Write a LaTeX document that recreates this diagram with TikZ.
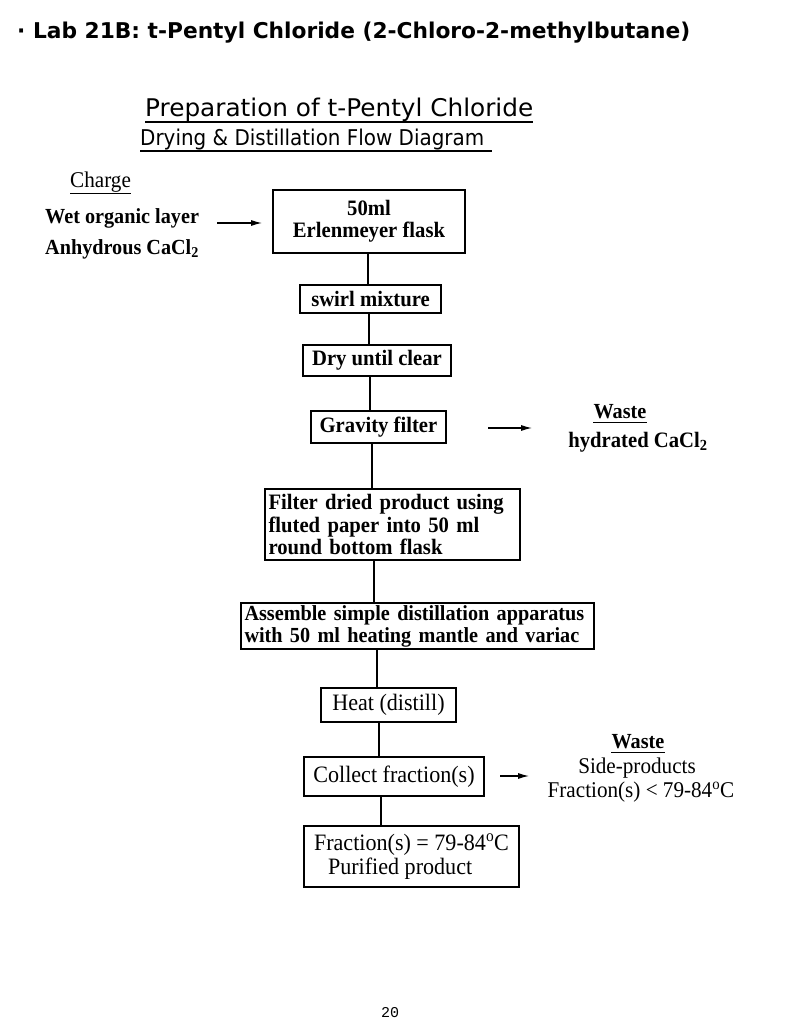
\documentclass[tikz,border=0pt]{standalone}
\usepackage{fontspec}
\setmainfont{Liberation Serif}[FakeStretch=0.94]
\newfontfamily\titlefont{DejaVu Sans}
\newfontfamily\subfont{DejaVu Sans}
\newfontfamily\pagefont{Liberation Mono}
\usetikzlibrary{arrows.meta}
\newcommand{\fs}[1]{\fontsize{#1}{#1}\selectfont}
\newcommand{\dg}{\textsuperscript{o}}
\tikzset{
  box/.style={draw, line width=1.1pt, inner sep=0pt, align=center},
  boldtxt/.style={font=\fs{22}\bfseries},
  regtxt/.style={font=\fs{23.5}},
  lbl/.style={inner sep=0pt, anchor=base},
  conn/.style={line width=1.1pt},
  arr/.style={line width=1.1pt, -{Latex[length=11pt,width=6pt]}},
  uline/.style={line width=1.2pt}
}
\begin{document}
\begin{tikzpicture}[x=1pt,y=-1pt]
\useasboundingbox (0,0) rectangle (795,1024);
% titles
\node[lbl, anchor=base west] (title) at (17,39) {\resizebox{673pt}{!}{\titlefont\bfseries · Lab 21B: t-Pentyl Chloride (2-Chloro-2-methylbutane)}};
\node[lbl, anchor=base west] (sub1) at (145,117) {\resizebox{388pt}{18.5pt}{\subfont Preparation of t-Pentyl Chloride}};
\draw[uline] (sub1.base west) ++(0,5) -- ++(388,0);
\node[lbl, anchor=base west] (sub2) at (140,146) {\resizebox{344pt}{16.5pt}{\subfont Drying \& Distillation Flow Diagram}};
\draw[uline] (sub2.base west) ++(0,5) -- ++(352,0);
% charge
\node[lbl, anchor=base west, font=\fs{22.5}] (charge) at (70,188) {Charge};
\draw[line width=0.9pt] (charge.base west) ++(0,5) -- (charge.base east |- 0,193);
\node[lbl, anchor=base west, font=\fs{21.5}\bfseries] (wet) at (45,224) {Wet organic layer};
\node[lbl, anchor=base west, font=\fs{21.5}\bfseries] (anh) at (45,254) {Anhydrous CaCl\textsubscript{2}};
\coordinate (a1s) at (217,223);
\coordinate (a1e) at (262,223);
\draw[arr] (a1s) -- (a1e);
% boxes
\node[box, boldtxt, minimum width=192pt, minimum height=63pt] (b1) at (369,221.5) {\fontsize{22}{27}\selectfont 50ml\\Erlenmeyer flask};
\node[box, boldtxt, minimum width=141pt, minimum height=28pt] (b2) at (370.5,299) {swirl mixture};
\node[box, boldtxt, minimum width=148pt, minimum height=31pt] (b3) at (377,360.5) {Dry until clear};
\node[box, boldtxt, minimum width=135pt, minimum height=32pt] (b4) at (378.5,427) {Gravity filter};
\node[box, boldtxt, minimum width=255pt, minimum height=71pt, text width=248pt, align=left] (b5) at (392.5,524.5) {\fontsize{22}{23.5}\selectfont \mbox{Filter dried product using}\\\mbox{fluted paper into 50 ml}\\\mbox{round bottom flask}};
\node[box, boldtxt, minimum width=353pt, minimum height=46pt, text width=346pt, align=left] (b6) at (417.5,626) {\fontsize{21.5}{22.5}\selectfont \mbox{Assemble simple distillation apparatus}\\\mbox{with 50 ml heating mantle and variac}};
\node[box, regtxt, minimum width=135pt, minimum height=34pt] (b7) at (388.5,705) {Heat (distill)};
\node[box, regtxt, minimum width=180pt, minimum height=39pt] (b8) at (394,776.5) {Collect fraction(s)};
\node[box, regtxt, minimum width=215pt, minimum height=61pt, align=left] (b9) at (411.5,856.5) {\fontsize{23.5}{28}\selectfont Fraction(s) = 79-84\dg C\\\hspace*{14pt}Purified product};
% connector x positions
\coordinate (x1) at (368,0);
\coordinate (x2) at (369,0);
\coordinate (x3) at (370,0);
\coordinate (x4) at (372,0);
\coordinate (x5) at (374,0);
\coordinate (x6) at (377,0);
\coordinate (x7) at (379,0);
\coordinate (x8) at (381,0);
\draw[conn] (b1.south -| x1) -- (b2.north -| x1);
\draw[conn] (b2.south -| x2) -- (b3.north -| x2);
\draw[conn] (b3.south -| x3) -- (b4.north -| x3);
\draw[conn] (b4.south -| x4) -- (b5.north -| x4);
\draw[conn] (b5.south -| x5) -- (b6.north -| x5);
\draw[conn] (b6.south -| x6) -- (b7.north -| x6);
\draw[conn] (b7.south -| x7) -- (b8.north -| x7);
\draw[conn] (b8.south -| x8) -- (b9.north -| x8);
% waste 1
\coordinate (a2s) at (488,428);
\coordinate (a2e) at (532,428);
\draw[arr] (a2s) -- (a2e);
\node[lbl, font=\fs{21.5}\bfseries] (w1) at (620,418) {Waste};
\draw[line width=0.9pt] (w1.base west) ++(0,4) -- (w1.base east |- 0,422);
\node[lbl, font=\fs{22}\bfseries] (hyd) at (638,447) {hydrated CaCl\textsubscript{2}};
% waste 2
\coordinate (a3s) at (500,776);
\coordinate (a3e) at (529,776);
\draw[arr] (a3s) -- (a3e);
\node[lbl, font=\fs{21.5}\bfseries] (w2) at (638,748) {Waste};
\draw[line width=0.9pt] (w2.base west) ++(0,4) -- (w2.base east |- 0,752);
\node[lbl, font=\fs{22.5}] (side) at (637,773) {Side-products};
\node[lbl, font=\fs{22.5}] (frac) at (641,797) {Fraction(s) < 79-84\dg C};
% page number
\node[lbl, font=\pagefont\fs{15}] (pg) at (390,1017) {20};
\end{tikzpicture}
\end{document}
